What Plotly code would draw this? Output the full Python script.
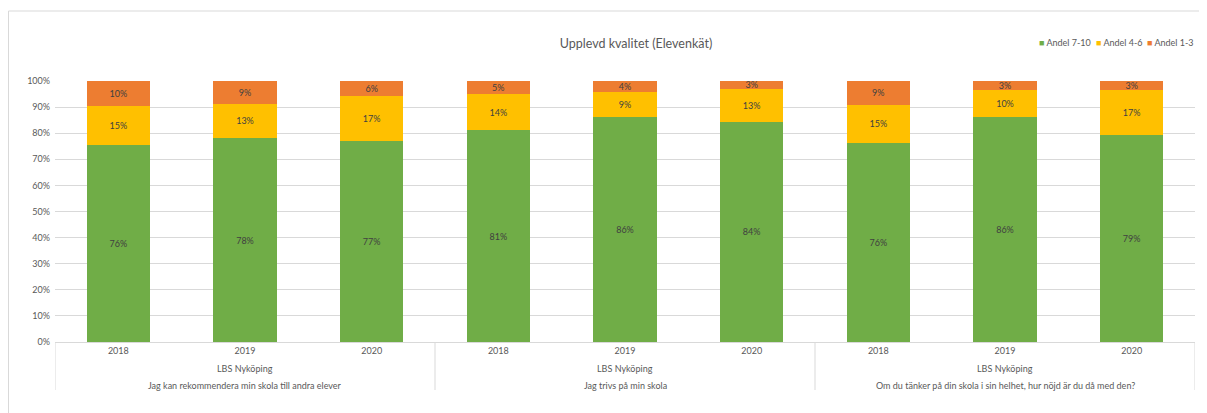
import plotly.graph_objects as go

years = ["2018", "2019", "2020", "2018", "2019", "2020", "2018", "2019", "2020"]
school = "LBS Nyköping"
questions = [
    "Jag kan rekommendera min skola till andra elever",
    "Jag trivs på min skola",
    "Om du tänker på din skola i sin helhet, hur nöjd är du då med den?",
]
andel_7_10 = [75.6, 78.1, 77.0, 81.2, 86.3, 84.3, 76.3, 86.2, 79.2]
andel_4_6 = [14.8, 13.2, 17.4, 13.8, 9.4, 12.8, 14.6, 10.4, 17.4]
andel_1_3 = [9.6, 8.7, 5.6, 5.0, 4.3, 2.9, 9.1, 3.4, 3.4]
y_ticks = [0, 10, 20, 30, 40, 50, 60, 70, 80, 90, 100]

FONT = "Lato, 'Open Sans', sans-serif"
GRAY = "#595959"
LINE = "#d9d9d9"

xs = list(range(len(years)))
series = [
    ("Andel 7-10", andel_7_10, "#70AD47"),
    ("Andel 4-6", andel_4_6, "#FFC000"),
    ("Andel 1-3", andel_1_3, "#ED7D31"),
]

fig = go.Figure()
for name, vals, col in series:
    fig.add_trace(go.Bar(
        x=xs, y=vals, name=name, width=0.5,
        marker=dict(color=col, line=dict(width=0)),
        texttemplate="%{y:.0f}%", textposition="inside",
        insidetextanchor="middle",
        textfont=dict(color="#404040", size=9, family=FONT),
        hoverinfo="skip", showlegend=False,
    ))

# page body has an 8px margin, so the figure is drawn 8px smaller and offset
OFF = 8
W, H = 1207 - OFF, 413 - OFF
ml, mr, mt, mb = 55 - OFF, 12, 81 - OFF, 71
pw, ph = W - ml - mr, H - mt - mb

annotations = []
shapes = []
n_groups = len(questions)
per = len(years) // n_groups
for g, q in enumerate(questions):
    xc = g * per + (per - 1) / 2
    annotations.append(dict(x=xc, xref="x", y=0, yref="paper", yanchor="middle",
                            yshift=-26, text=school, showarrow=False,
                            font=dict(size=9, color=GRAY, family=FONT)))
    annotations.append(dict(x=xc, xref="x", y=0, yref="paper", yanchor="middle",
                            yshift=-43, text=q, showarrow=False,
                            font=dict(size=9, color=GRAY, family=FONT)))
for k in range(n_groups + 1):
    xd = k * per - 0.5
    shapes.append(dict(type="line", xref="x", yref="paper", x0=xd, x1=xd,
                       y0=0, y1=-48 / ph, line=dict(color=LINE, width=1)))

# legend drawn as text items (small squares like the original)
leg_x = [1037, 1094, 1145]
for (name, vals, col), lx in zip(series, leg_x):
    annotations.append(dict(
        x=(lx - OFF - ml) / pw, xref="paper", xanchor="left",
        y=(H - mb - (42 - OFF)) / ph, yref="paper", yanchor="middle",
        text=f'<span style="color:{col}">■</span> {name}', showarrow=False,
        font=dict(size=9, color=GRAY, family=FONT)))

# outer chart border (left and top edges visible)
bx = (0.5 - ml) / pw
by = (H - mb - (11 - OFF)) / ph
shapes.append(dict(type="line", xref="paper", yref="paper", x0=bx, x1=(W - ml) / pw,
                   y0=by, y1=by, line=dict(color=LINE, width=1)))
shapes.append(dict(type="line", xref="paper", yref="paper", x0=bx, x1=bx,
                   y0=by, y1=-mb / ph, line=dict(color=LINE, width=1)))

fig.update_layout(
    width=W, height=H,
    barmode="stack",
    plot_bgcolor="white", paper_bgcolor="white",
    margin=dict(l=ml, r=mr, t=mt, b=mb),
    title=dict(text="Upplevd kvalitet (Elevenkät)", x=(636 - OFF) / W, xanchor="center",
               y=1 - (44 - OFF) / H, yanchor="middle",
               font=dict(size=12.5, color=GRAY, family=FONT)),
    showlegend=False,
    uniformtext=dict(minsize=9, mode="show"),
    annotations=annotations,
    shapes=shapes,
    bargap=0.5,
)
fig.update_xaxes(range=[-0.5, len(years) - 0.5], tickmode="array", tickvals=xs, ticktext=years,
                 showgrid=False, zeroline=False, showline=True, linecolor=LINE, linewidth=1,
                 ticks="", tickfont=dict(size=9, color=GRAY, family=FONT), fixedrange=True)
fig.update_yaxes(range=[0, 100], tickmode="array", tickvals=y_ticks,
                 ticktext=[f"{v}%" for v in y_ticks],
                 showgrid=True, gridcolor=LINE, gridwidth=1, zeroline=False, showline=False,
                 ticks="", ticklabelstandoff=4,
                 tickfont=dict(size=9, color=GRAY, family=FONT), fixedrange=True)

fig.write_html("out.html")
